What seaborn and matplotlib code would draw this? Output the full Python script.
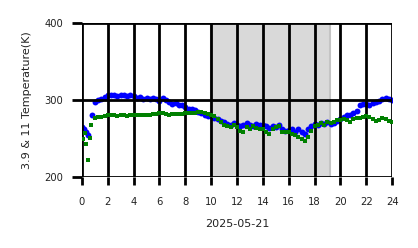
import numpy as np
import pandas as pd
import matplotlib
matplotlib.use("Agg")
import matplotlib.pyplot as plt
import seaborn as sns

# Blue series (3.9 um) – hours and temperatures (K)
blue_t = [0.0, 0.15, 0.3, 0.45, 0.75] + [1.0 + 0.25 * i for i in range(93)]
blue_v = [265, 262, 258, 255, 280,
          297, 300, 302, 304, 306, 307, 306, 305, 306, 307, 305, 306,
          305, 303, 304, 302, 303, 302, 303, 301, 299, 303, 300, 297,
          295, 296, 294, 293, 291, 289, 288, 287, 285, 283, 280, 279,
          279, 277, 275, 273, 271, 269, 268, 270, 268, 266, 268, 270,
          268, 266, 269, 267, 268, 266, 264, 266, 265, 267, 262, 260,
          261, 262, 258, 262, 259, 256, 262, 266, 269, 268, 270, 269,
          271, 269, 270, 273, 275, 278, 280, 281, 283, 286, 294, 295,
          295, 294, 296, 297, 299, 301, 303, 302, 300]

# Green series (11 um)
green_t = [0.05, 0.2, 0.31, 0.46, 0.62, 0.72] + [1.0 + 0.25 * i for i in range(93)]
green_v = [250, 257, 243, 222, 251, 267,
           277, 278, 278, 279, 280, 281, 280, 279, 281, 281, 279, 281,
           280, 281, 281, 280, 281, 281, 282, 282, 283, 283, 282, 280,
           282, 282, 282, 282, 283, 283, 283, 283, 284, 284, 283, 282,
           281, 279, 276, 272, 268, 266, 265, 267, 265, 260, 258, 265,
           263, 266, 264, 262, 263, 259, 256, 262, 265, 266, 258, 258,
           259, 256, 254, 252, 250, 247, 252, 260, 266, 268, 270, 268,
           271, 270, 272, 274, 274, 275, 274, 272, 276, 277, 277, 278,
           279, 278, 275, 273, 274, 277, 275, 273, 272]

night_start, night_end = 10.0, 19.2
x_ticks = list(range(0, 25, 2))
y_ticks = [200, 300, 400]

sns.set_theme(style="white")
plt.rcParams['font.family'] = ['DejaVu Sans']

fig = plt.figure(figsize=(4.18, 2.48), dpi=100)
ax = fig.add_axes([0.196, 0.286, 0.742, 0.621])

ax.axvspan(night_start, night_end, facecolor='#d9d9d9', edgecolor='#c4c4c4',
           linewidth=1.5, zorder=0)

bdf = pd.DataFrame({"t": blue_t, "v": blue_v})
gdf = pd.DataFrame({"t": green_t, "v": green_v})
sns.scatterplot(data=bdf, x="t", y="v", ax=ax, color='#0000ff', marker='o',
                s=18, linewidth=0, zorder=2)
sns.scatterplot(data=gdf, x="t", y="v", ax=ax, color='#008000', marker='s',
                s=10, linewidth=0, zorder=3)

ax.set_xlim(0, 24)
ax.set_ylim(200, 400)
ax.set_xticks(x_ticks)
ax.set_yticks(y_ticks)
ax.grid(True, color='black', linewidth=2, zorder=5)
ax.set_axisbelow(False)
for s in ax.spines.values():
    s.set_visible(False)
ax.tick_params(axis='x', which='major', length=6, width=2, color='black',
               labelsize=7.2, labelcolor='#222222', pad=8, bottom=True)
ax.tick_params(axis='y', which='major', length=7, width=2, color='black',
               labelsize=7.2, labelcolor='#222222', pad=6.5, left=True)
ax.set_xlabel("2025-05-21", fontsize=8, color='#222222', labelpad=9)
ax.set_ylabel("3.9 & 11 Temperature(K)", fontsize=8, color='#222222', labelpad=9)

fig.savefig("out.png", dpi=100)
